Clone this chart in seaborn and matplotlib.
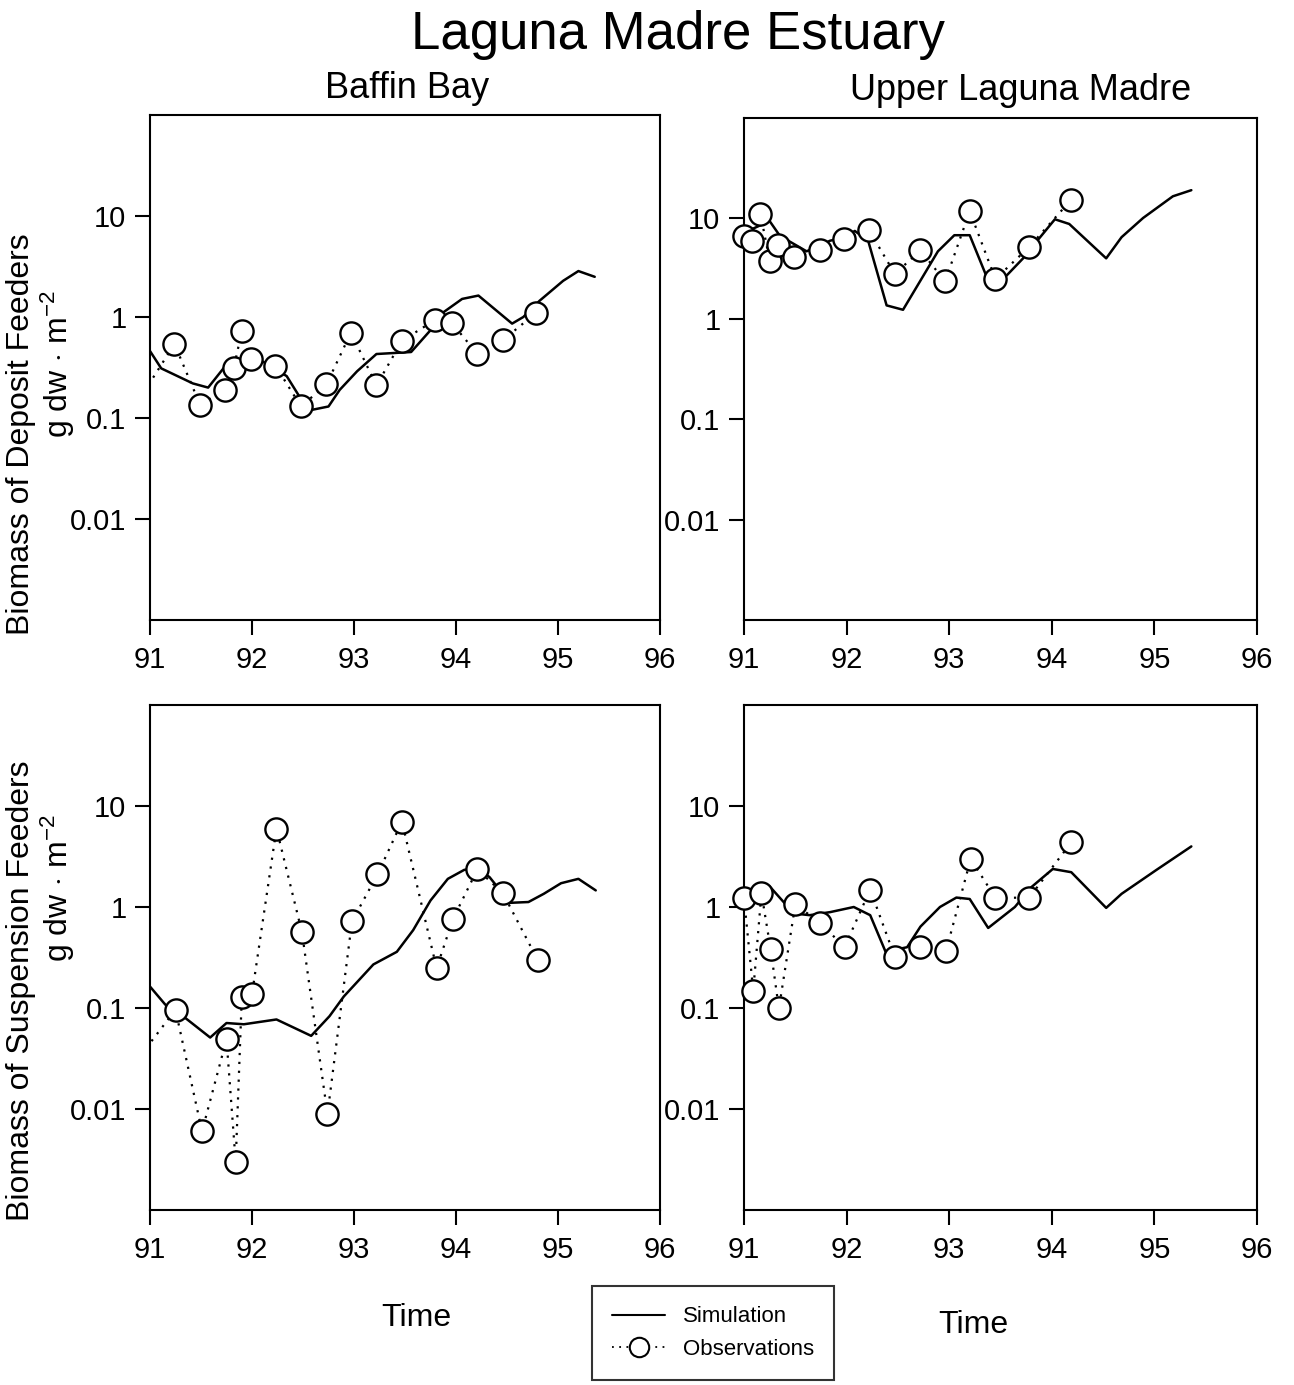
import numpy as np
import pandas as pd
import matplotlib
matplotlib.use("Agg")
import matplotlib.pyplot as plt
from matplotlib.lines import Line2D
import seaborn as sns

# ---------------- data ----------------
# Baffin Bay - deposit feeders
bb_dep_sim_t = [91.0, 91.11, 91.42, 91.57, 91.72, 91.98, 92.11, 92.34, 92.47, 92.58, 92.75, 92.86,
                93.03, 93.22, 93.56, 93.75, 93.88, 94.06, 94.22, 94.55, 94.66, 94.82, 95.05, 95.2, 95.36]
bb_dep_sim_v = [0.46, 0.31, 0.22, 0.20, 0.31, 0.38, 0.36, 0.26, 0.16, 0.12, 0.13, 0.19,
                0.29, 0.43, 0.45, 0.74, 1.12, 1.51, 1.63, 0.86, 1.0, 1.45, 2.28, 2.85, 2.5]
bb_dep_obs_t = [90.75, 91.24, 91.49, 91.74, 91.82, 91.90, 91.99, 92.23, 92.48, 92.73, 92.97, 93.22,
                93.47, 93.79, 93.96, 94.21, 94.46, 94.78]
bb_dep_obs_v = [0.09, 0.54, 0.136, 0.19, 0.31, 0.72, 0.38, 0.33, 0.13, 0.215, 0.70, 0.21,
                0.58, 0.93, 0.87, 0.43, 0.59, 1.09]

# Upper Laguna Madre - deposit feeders
ulm_dep_sim_t = [91.0, 91.25, 91.35, 91.61, 91.84, 91.97, 92.08, 92.21, 92.39, 92.55, 92.89, 93.05,
                 93.20, 93.36, 93.56, 93.72, 93.87, 94.03, 94.17, 94.53, 94.68, 94.89, 95.18, 95.36]
ulm_dep_sim_v = [7.2, 9.4, 6.7, 4.7, 6.0, 6.4, 7.5, 6.0, 1.36, 1.23, 4.7, 6.8,
                 6.8, 2.7, 2.7, 4.0, 6.2, 9.8, 8.8, 4.0, 6.5, 10.1, 16.6, 19.1]
ulm_dep_obs_t = [91.0, 91.08, 91.16, 91.25, 91.33, 91.49, 91.74, 91.97, 92.22, 92.47, 92.72, 92.96,
                 93.20, 93.45, 93.78, 94.19]
ulm_dep_obs_v = [6.7, 5.96, 11.1, 3.8, 5.4, 4.1, 4.9, 6.2, 7.6, 2.8, 4.8, 2.36,
                 11.8, 2.49, 5.2, 15.4]

# Baffin Bay - suspension feeders
bb_sus_sim_t = [91.0, 91.15, 91.25, 91.59, 91.75, 91.92, 92.24, 92.58, 92.76, 92.90, 93.19, 93.42,
                93.58, 93.75, 93.92, 94.08, 94.21, 94.33, 94.53, 94.71, 94.86, 95.03, 95.2, 95.37]
bb_sus_sim_v = [0.163, 0.108, 0.095, 0.051, 0.071, 0.069, 0.077, 0.053, 0.083, 0.13, 0.27, 0.36,
                0.59, 1.16, 1.9, 2.33, 2.44, 1.97, 1.1, 1.12, 1.35, 1.72, 1.9, 1.46]
bb_sus_obs_t = [90.75, 91.25, 91.51, 91.75, 91.84, 91.90, 92.0, 92.24, 92.49, 92.74, 92.98, 93.23,
                93.47, 93.81, 93.97, 94.21, 94.46, 94.80]
bb_sus_obs_v = [0.021, 0.096, 0.006, 0.049, 0.003, 0.128, 0.137, 5.98, 0.56, 0.0089, 0.72, 2.1,
                7.0, 0.248, 0.76, 2.36, 1.37, 0.30]

# Upper Laguna Madre - suspension feeders
ulm_sus_sim_t = [91.0, 91.17, 91.25, 91.40, 91.5, 91.64, 91.84, 92.07, 92.23, 92.38, 92.59, 92.72,
                 92.91, 93.07, 93.20, 93.38, 93.64, 93.80, 94.01, 94.19, 94.53, 94.68, 95.02, 95.36]
ulm_sus_sim_v = [1.12, 1.67, 1.6, 1.08, 0.86, 0.83, 0.89, 1.0, 0.83, 0.36, 0.40, 0.64,
                 1.0, 1.24, 1.2, 0.62, 1.0, 1.57, 2.38, 2.21, 0.98, 1.35, 2.33, 3.98]
ulm_sus_obs_t = [91.0, 91.09, 91.17, 91.26, 91.34, 91.50, 91.74, 91.98, 92.23, 92.47, 92.72, 92.97,
                 93.21, 93.45, 93.78, 94.19]
ulm_sus_obs_v = [1.23, 0.148, 1.37, 0.38, 0.099, 1.06, 0.70, 0.40, 1.49, 0.32, 0.40, 0.37,
                 3.0, 1.23, 1.24, 4.36]

title = "Laguna Madre Estuary"
panel_titles = ["Baffin Bay", "Upper Laguna Madre"]
ylab_dep = "Biomass of Deposit Feeders"
ylab_sus = "Biomass of Suspension Feeders"
unit_label = r"g dw $\cdot$ m$^{-2}$"
x_ticks = [91, 92, 93, 94, 95, 96]
y_ticks = [0.01, 0.1, 1, 10]
y_ticklabels = ["0.01", "0.1", "1", "10"]
legend_labels = ["Simulation", "Observations"]

# ---------------- style ----------------
sns.set_theme(style="white")
plt.rcParams["font.family"] = ["Liberation Sans", "DejaVu Sans"]
plt.rcParams["mathtext.fontset"] = "custom"
plt.rcParams["mathtext.rm"] = "Liberation Sans"
plt.rcParams["mathtext.it"] = "Liberation Sans:italic"
plt.rcParams["mathtext.bf"] = "Liberation Sans:bold"
plt.rcParams["text.color"] = "black"
plt.rcParams["axes.labelcolor"] = "black"
plt.rcParams["xtick.color"] = "black"
plt.rcParams["ytick.color"] = "black"
plt.rcParams["axes.edgecolor"] = "black"

W, H = 1294, 1385
fig = plt.figure(figsize=(W / 100, H / 100), dpi=100)

def fx(px):
    return px / W

def fy(py):
    return 1 - py / H

# axes boxes in pixels: (left, top, right, bottom)
boxes = {
    "tl": (150, 115, 660, 620),
    "tr": (744, 118, 1257, 620),
    "bl": (150, 705, 660, 1210),
    "br": (744, 705, 1257, 1210),
}

panels = {
    "tl": (bb_dep_sim_t, bb_dep_sim_v, bb_dep_obs_t, bb_dep_obs_v),
    "tr": (ulm_dep_sim_t, ulm_dep_sim_v, ulm_dep_obs_t, ulm_dep_obs_v),
    "bl": (bb_sus_sim_t, bb_sus_sim_v, bb_sus_obs_t, bb_sus_obs_v),
    "br": (ulm_sus_sim_t, ulm_sus_sim_v, ulm_sus_obs_t, ulm_sus_obs_v),
}

obs_ls = (0, (1, 3))

for key, (l, t, r, b) in boxes.items():
    ax = fig.add_axes([fx(l), fy(b), fx(r) - fx(l), fy(t) - fy(b)])
    st, sv, ot, ov = panels[key]
    sim_df = pd.DataFrame({"t": st, "v": sv})
    obs_df = pd.DataFrame({"t": ot, "v": ov})
    sns.lineplot(data=sim_df, x="t", y="v", ax=ax, color="black", linewidth=1.8,
                 sort=False, estimator=None, zorder=2)
    # right-hand panels: observations start on the axis, markers drawn over the spine
    clip = key in ("tl", "bl")
    sns.lineplot(data=obs_df, x="t", y="v", ax=ax, color="black", linewidth=1.6,
                 linestyle=obs_ls, marker="o", markersize=16, markerfacecolor="white",
                 markeredgecolor="black", markeredgewidth=1.7,
                 sort=False, estimator=None, zorder=3, clip_on=clip)
    ax.set_yscale("log")
    ax.set_xlim(91, 96)
    ax.set_ylim(0.001, 100)
    ax.set_xticks(x_ticks)
    ax.set_xticklabels([str(v) for v in x_ticks])
    ax.set_yticks(y_ticks)
    ax.set_yticklabels(y_ticklabels)
    ax.yaxis.set_minor_locator(matplotlib.ticker.NullLocator())
    ax.tick_params(axis="both", which="major", direction="out", length=11, width=1.5,
                   labelsize=21, color="black", labelcolor="black", left=True, bottom=True)
    ax.tick_params(axis="x", pad=8)
    ax.tick_params(axis="y", pad=6)
    ax.set_xlabel("")
    ax.set_ylabel("")
    for sp in ax.spines.values():
        sp.set_visible(True)
        sp.set_color("black")
        sp.set_linewidth(1.5)

# titles
fig.text(fx(678), fy(35), title, ha="center", va="center", fontsize=38, color="black")
fig.text(fx(407), fy(88), panel_titles[0], ha="center", va="center", fontsize=26, color="black")
fig.text(fx(1021), fy(90), panel_titles[1], ha="center", va="center", fontsize=26, color="black")

# y labels
fig.text(fx(21), fy(434), ylab_dep, rotation=90, ha="center", va="center", fontsize=23, color="black")
fig.text(fx(58), fy(364), unit_label, rotation=90, ha="center", va="center", fontsize=23, color="black")
fig.text(fx(21), fy(991), ylab_sus, rotation=90, ha="center", va="center", fontsize=23, color="black")
fig.text(fx(58), fy(888), unit_label, rotation=90, ha="center", va="center", fontsize=23, color="black")

# x labels
fig.text(fx(416), fy(1318), "Time", ha="center", va="center", fontsize=23, color="black")
fig.text(fx(973), fy(1325), "Time", ha="center", va="center", fontsize=23, color="black")

# legend
handles = [
    Line2D([], [], color="black", linewidth=1.5),
    Line2D([], [], color="black", linewidth=1.3, linestyle=obs_ls, marker="o",
           markersize=14, markerfacecolor="white", markeredgecolor="black", markeredgewidth=1.5),
]
leg = fig.legend(handles, legend_labels, loc="center", bbox_to_anchor=(fx(713), fy(1333)),
                 fontsize=16, frameon=True, fancybox=False, edgecolor="black",
                 handlelength=2.4, borderpad=0.9, labelspacing=0.5, handletextpad=0.8)
leg.get_frame().set_linewidth(1.5)
for txt in leg.get_texts():
    txt.set_color("black")

fig.savefig("out.png", dpi=100)
